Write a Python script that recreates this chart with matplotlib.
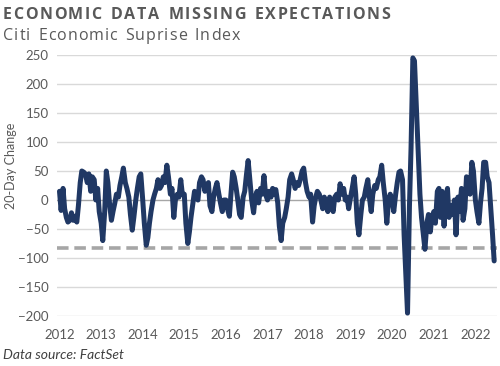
import numpy as np
import pandas as pd
import matplotlib
matplotlib.use("Agg")
import matplotlib.pyplot as plt

# Citi Economic Surprise Index, 20-day change (semi-monthly)
y2012 = [15, -18, 20, -15, -30, -38, -35, -22, -35, -28, -38, -10,
         30, 50, 48, 45, 30, 45, 15, 40, 35, 0, 20, -20]
y2013 = [-40, -70, -20, 50, 30, -5, -35, -20, -5, 10, 5, 25,
         40, 55, 30, 20, 5, -25, -52, -30, 0, 20, 40, 45]
y2014 = [0, -40, -78, -65, -40, -20, 0, 10, 20, 35, 20, 25,
         40, 30, 60, 40, 10, 20, -30, 0, 10, 5, 35, 10]
y2015 = [10, -40, -75, -55, -30, -10, 15, 5, 0, 30, 40, 35,
         15, 25, 30, -10, -20, 5, 20, 30, 10, -5, -20, 0]
y2016 = [0, -15, -28, 10, 48, 40, 20, 0, -25, -30, 5, 15,
         45, 68, 30, 0, -22, 5, 15, -5, 20, 10, 42, 10]
y2017 = [0, 15, 5, 20, 10, 18, -5, -45, -70, -40, -30, -15,
         5, 35, 45, 35, 20, 30, 25, 35, 50, 55, 30, 15]
y2018 = [5, 10, -38, -10, 5, 15, 10, 0, -15, 5, -10, -20,
         5, -10, -20, 5, 10, 0, 28, 10, 20, 0, 5, -15]
y2019 = [5, 20, 40, 10, -40, -60, -25, 0, 5, 20, 35, 5,
         -20, 10, 25, 20, 35, 40, 60, 30, 0, -40, 0, 10]
y2020 = [0, -20, 10, 30, 48, 50, 35, -60, -130, -195, -10, 90,
         245, 240, 160, 90, 10, -30, -60, -85, -40, -25, -55, -30]
y2021 = [-20, -40, 15, 20, -30, 15, -45, 0, 20, -30, -10, -25,
         0, -60, 5, -20, 20, -35, -15, 40, 35, 10, 65, 50]
y2022 = [0, -20, -40, -5, 20, 65, 65, 40, 30, -10, -60, -105]

threshold = -82
year_ticks = list(range(2012, 2023))

values = y2012 + y2013 + y2014 + y2015 + y2016 + y2017 + y2018 + y2019 + y2020 + y2021 + y2022
dates = pd.date_range("2012-01-01", periods=len(values), freq="SMS")

grey = "#595959"
navy = "#203864"


def spaced_text(fig, x_px, y_px, s, width_px, **kw):
    '''write s letter by letter so that it spans width_px (letter spacing)'''
    r = fig.canvas.get_renderer()
    widths = []
    for ch in s:
        t = fig.text(0, 0, ch if ch != " " else "n", **kw)
        widths.append(t.get_window_extent(r).width * (0.6 if ch == " " else 1))
        t.remove()
    gap = (width_px - sum(widths)) / (len(s) - 1)
    x = x_px
    H = fig.bbox.height
    for ch, w in zip(s, widths):
        if ch != " ":
            fig.text(x / fig.bbox.width, 1 - y_px / H, ch, va="baseline", **kw)
        x += w + gap


fig = plt.figure(figsize=(5.0, 3.66), dpi=100)
ax = fig.add_axes([0.114, 0.1366, 0.88, 0.7131])

for v in range(-200, 251, 50):
    ax.axhline(v, color="#a6a6a6" if v == 0 else "#d9d9d9", lw=1.0, zorder=1)
ax.axhline(threshold, color="#a6a6a6", lw=2.6, ls=(0, (3.2, 1.6)), zorder=2)
ax.plot(dates, values, color=navy, lw=3.6, solid_joinstyle="round",
        solid_capstyle="round", zorder=3, clip_on=False)

ax.set_ylim(-200, 250)
ax.set_yticks(range(-200, 251, 50))
ax.set_xlim(pd.Timestamp("2011-12-10"), pd.Timestamp("2022-07-10"))
ax.set_xticks([pd.Timestamp(f"{y}-01-01") for y in year_ticks])
ax.set_xticklabels([str(y) for y in year_ticks])
for s in ax.spines.values():
    s.set_visible(False)
ax.tick_params(length=0, labelsize=9.5, colors=grey)
ax.tick_params(axis="x", pad=9)
ax.tick_params(axis="y", pad=6)
for lab in ax.get_xticklabels() + ax.get_yticklabels():
    lab.set_fontfamily("Lato")
ax.set_ylabel("20-Day Change", fontsize=9, color=grey, family="Lato")
ax.yaxis.set_label_coords(-0.092, 0.575)

spaced_text(fig, 3, 19, "ECONOMIC DATA MISSING EXPECTATIONS", 387,
            fontsize=11.5, fontweight="bold", color=grey, family="Open Sans")
spaced_text(fig, 3, 40, "Citi Economic Suprise Index", 237,
            fontsize=11.5, color=grey, family="Open Sans")
fig.text(0.006, 0.015, "Data source: FactSet", fontsize=10, style="italic",
         color="#404040", va="bottom", family="Lato")

fig.savefig("out.png", dpi=100)
